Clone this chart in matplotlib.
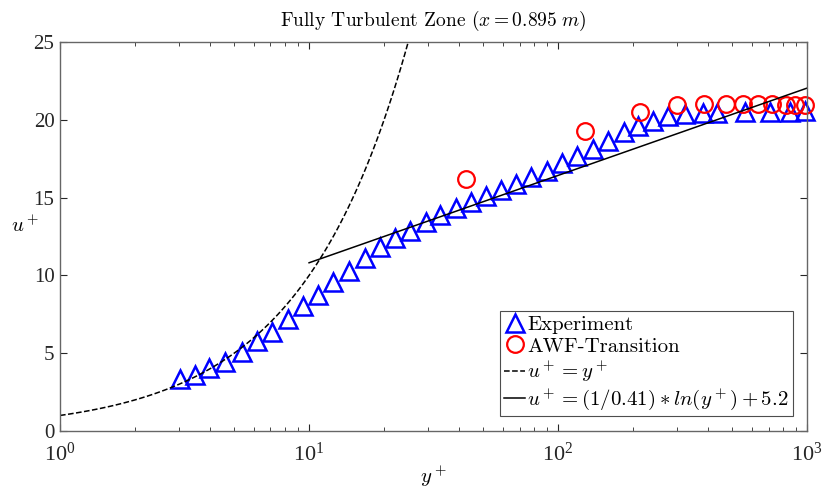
import matplotlib
matplotlib.use('Agg')
import matplotlib.pyplot as plt
import numpy as np

# experiment (blue triangles)
exp_yplus = [3.03, 3.49, 3.98, 4.60, 5.37, 6.18, 7.08, 8.21, 9.43, 10.9,
             12.5, 14.5, 16.7, 19.3, 22.2, 25.4, 29.5, 33.6, 38.8, 44.6,
             51.4, 58.9, 67.8, 77.9, 90.1, 103.5, 119.5, 137.9, 159.2, 183.3,
             210.2, 240.7, 277.3, 323.6, 382.2, 435.1, 563.7, 710.0, 854.6, 981.8]
exp_uplus = [3.34, 3.60, 4.03, 4.45, 5.10, 5.80, 6.34, 7.20, 8.01, 8.77,
             9.56, 10.30, 11.12, 11.81, 12.40, 12.87, 13.45, 13.88, 14.33, 14.74,
             15.12, 15.51, 15.87, 16.31, 16.73, 17.20, 17.65, 18.12, 18.66, 19.20,
             19.64, 19.95, 20.26, 20.37, 20.47, 20.47, 20.50, 20.50, 20.50, 20.56]

# AWF-Transition (red circles)
awf_yplus = [42.7, 128.3, 213.5, 300.4, 385.7, 472.7, 553.6, 635.7, 723.2, 824.4, 895.5, 982.0]
awf_uplus = [16.18, 19.31, 20.53, 20.95, 21.02, 21.05, 21.05, 21.02, 21.02, 20.95, 20.95, 20.95]

# wall laws
kappa = 0.41
B = 5.2
visc_yplus = np.logspace(0, np.log10(25), 100)
log_yplus = np.logspace(1, 3, 100)

plt.rcParams['mathtext.fontset'] = 'cm'
plt.rcParams['font.family'] = ['Liberation Serif', 'DejaVu Serif']

fig = plt.figure(figsize=(8.22, 4.90), dpi=100)
ax = fig.add_axes([0.073, 0.1204, 0.909, 0.7936])

ax.plot(exp_yplus, exp_uplus, linestyle='none', marker='^', markersize=13,
        markerfacecolor='none', markeredgecolor='#0000ff', markeredgewidth=1.8,
        label='Experiment', clip_on=False)
ax.plot(awf_yplus, awf_uplus, linestyle='none', marker='o', markersize=12,
        markerfacecolor='none', markeredgecolor='#ff0000', markeredgewidth=1.6,
        label='AWF-Transition', clip_on=False)
ax.plot(visc_yplus, visc_yplus, 'k--', lw=1.1, label=r'$u^+ = y^+$')
ax.plot(log_yplus, np.log(log_yplus) / kappa + B, 'k-', lw=1.1,
        label=r'$u^+ = (1/0.41)*ln(y^+) + 5.2$')

ax.set_xscale('log')
ax.set_xlim(1, 1000)
ax.set_ylim(0, 25)
ax.set_yticks([0, 5, 10, 15, 20, 25])

ax.tick_params(which='both', direction='in', top=True, right=True,
               colors='0.15')
ax.tick_params(axis='y', labelsize=15, pad=4)
ax.tick_params(axis='x', labelsize=16, pad=8)
ax.tick_params(which='major', length=5)
ax.tick_params(which='minor', length=3)
for s in ax.spines.values():
    s.set_color('0.4')
    s.set_linewidth(1.0)

ax.set_title(r'Fully Turbulent Zone ($x = 0.895\ m$)', fontfamily='cmr10',
             fontsize=14, pad=12)
ax.set_xlabel(r'$y^+$', fontsize=15, labelpad=-1)
ax.set_ylabel(r'$u^+$', fontsize=15, rotation=0, labelpad=6)

leg = ax.legend(loc='lower right', prop={'family': 'cmr10', 'size': 15},
                handlelength=1.0, handletextpad=0.1, labelspacing=0.15,
                borderpad=0.2, borderaxespad=0.7, fancybox=False,
                framealpha=1, edgecolor='0.3')
leg.get_frame().set_linewidth(0.8)

fig.savefig('out.png', dpi=100)
